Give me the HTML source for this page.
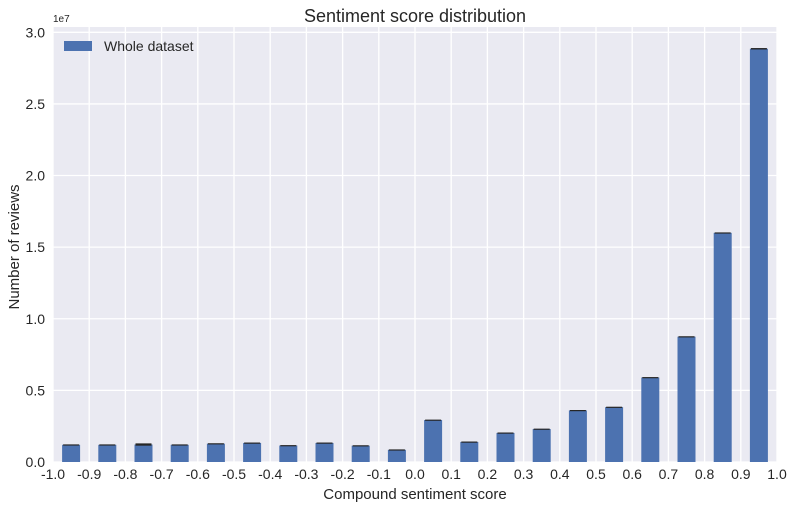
<!DOCTYPE html>
<html><head><meta charset="utf-8"><style>
body{margin:0;background:#fff;font-family:"Liberation Sans",sans-serif}
svg text{font-family:"Liberation Sans",sans-serif;fill:#262626}
</style></head><body>
<svg width="794" height="508">
<script>
const categories=["-0.95","-0.85","-0.75","-0.65","-0.55","-0.45","-0.35","-0.25","-0.15","-0.05","0.05","0.15","0.25","0.35","0.45","0.55","0.65","0.75","0.85","0.95"];
const values=[1.2,1.2,1.22,1.2,1.28,1.33,1.15,1.33,1.14,0.85,2.93,1.4,2.03,2.3,3.6,3.83,5.9,8.75,16.0,28.85];
const errors=[0.03,0.03,0.08,0.03,0.03,0.03,0.03,0.03,0.03,0.03,0.03,0.03,0.03,0.03,0.03,0.03,0.03,0.03,0.03,0.05];
const xTicks=["-1.0","-0.9","-0.8","-0.7","-0.6","-0.5","-0.4","-0.3","-0.2","-0.1","0.0","0.1","0.2","0.3","0.4","0.5","0.6","0.7","0.8","0.9","1.0"];
const yTicks=[0,0.5,1.0,1.5,2.0,2.5,3.0];
</script>
<rect x="53" y="27" width="724" height="435" fill="#EAEAF2"/>
<g id="grid"></g><g id="bars"></g><g id="axes"></g>
<text x="415" y="22" text-anchor="middle" font-size="18">Sentiment score distribution</text>
<text x="53" y="22" font-size="10">1e7</text>
<text x="415" y="499" text-anchor="middle" font-size="15">Compound sentiment score</text>
<text x="19" y="247" text-anchor="middle" font-size="15" transform="rotate(-90 19 247)">Number of reviews</text>
<g>
<rect x="64" y="41" width="28" height="10" fill="#4C72B0"/>
<text x="104" y="51" font-size="14">Whole dataset</text>
</g>
<script>
const ns="http://www.w3.org/2000/svg";
const L=53,R=777,B=462,T=32.3;
const xs=i=>L+(R-L)*i/categories.length;
const ys=v=>B-(B-T)*v/30;
function mk(t,a,p){const e=document.createElementNS(ns,t);for(const k in a)e.setAttribute(k,a[k]);p.appendChild(e);return e;}
const g=document.getElementById('grid'),b=document.getElementById('bars'),ax=document.getElementById('axes');
xTicks.forEach((t,i)=>{
 const x=xs(i);
 const l=mk('line',{x1:x,x2:x,y1:27,y2:B,stroke:'#fff','stroke-width':1.3},g);
 
 
 const tx=mk('text',{x:x,y:479,'text-anchor':'middle','font-size':14},ax);tx.textContent=t;
 
 
});
yTicks.forEach(v=>{
 const y=ys(v*10);
 const l=mk('line',{x1:L,x2:R,y1:y,y2:y,stroke:'#fff','stroke-width':1.3},g);
 
 
 const tx=mk('text',{x:45,y:y+5,'text-anchor':'end','font-size':14},ax);tx.textContent=v.toFixed(1);
 
 
});
categories.forEach((c,i)=>{
 const cx=(xs(i)+xs(i+1))/2,w=18,v=values[i];
 const r=mk('rect',{x:cx-w/2,y:ys(v),width:w,height:B-ys(v),fill:'#4C72B0'},b);
 
 
 const e=errors[i];
 const el=mk('rect',{x:cx-8,y:ys(v+e),width:16,height:Math.max(1.2,ys(v-e)-ys(v+e)),fill:'#262626'},b);
 
 
});
</script>
</svg>
</body></html>
